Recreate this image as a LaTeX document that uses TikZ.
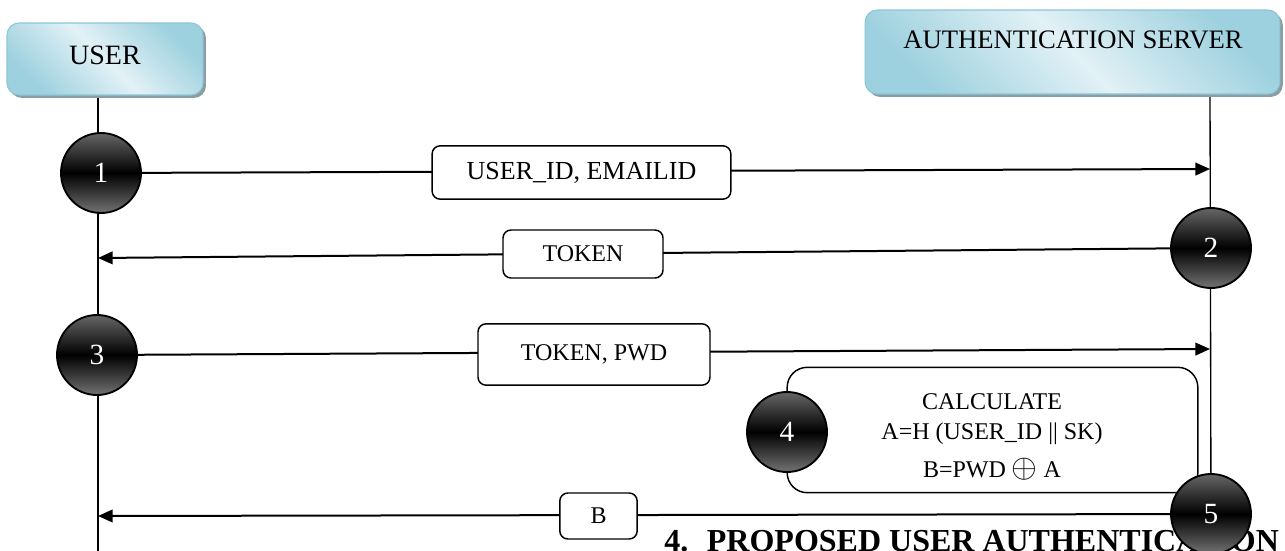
\documentclass[tikz,border=0pt]{standalone}
\usepackage{fontspec}
\setmainfont{Liberation Serif}
\usetikzlibrary{arrows.meta,shadows}
\definecolor{bluelight}{HTML}{E2F1F6}
\definecolor{bluedark}{HTML}{9ED1DF}
\definecolor{blueedge}{HTML}{8CC6D6}
\definecolor{shadowc}{HTML}{8A9DA3}
\pgfdeclarelayer{bg}
\pgfsetlayers{bg,main}
\tikzset{
  actor/.style={rounded corners=9pt, draw=blueedge, line width=0.8pt,
    left color=bluedark, right color=bluedark, middle color=bluelight, shading angle=135,
    drop shadow={shadow xshift=2.2pt, shadow yshift=-2.2pt, fill=shadowc, opacity=1},
    inner sep=0pt},
  numc/.style={circle, draw=black, line width=1.4pt, minimum size=60pt, inner sep=0pt,
    top color=black!60, bottom color=black!55, middle color=black,
    text=white, font=\fontsize{22}{24}\selectfont},
  lbl/.style={draw, fill=white, rounded corners=6pt, line width=1.1pt, inner sep=0pt,
    font=\fontsize{18}{20}\selectfont},
  msg/.style={line width=1.5pt, -{Triangle[length=11pt,width=9.5pt]}},
  life/.style={line width=1pt},
}
\begin{document}
\begin{tikzpicture}[x=0.75pt, y=-0.75pt]
\useasboundingbox (0,0) rectangle (1285,550);

% actors
\node[actor, minimum width=147pt, minimum height=54pt] (userbox) at (105,59) {};
\node[font=\fontsize{21}{24}\selectfont] (usertxt) at (105,55) {USER};
\node[actor, minimum width=311pt, minimum height=63pt] (srvbox) at (1072.5,52) {};
\node[font=\fontsize{20}{24}\selectfont] (srvtxt) at (1073,40) {AUTHENTICATION SERVER};

% coordinates on lifelines
\coordinate (utop) at (98,92);
\coordinate (ubot) at (98,552);
\coordinate (stop) at (1210,92);
\coordinate (s1) at (1210,169);
\coordinate (u2) at (98,258);
\coordinate (s3) at (1210,349);
\coordinate (u5) at (98,516);

% step circles 1-3
\node[numc] (c1) at (101,173) {1};
\node[numc] (c2) at (1211,248) {2};
\node[numc] (c3) at (97,355) {3};

% calculation box
\node[draw, line width=1.1pt, rounded corners=15pt, minimum width=308pt, minimum height=94pt, inner sep=0pt] (box4) at (992.5,430) {};
\node[align=center, font=\fontsize{18}{22.5}\selectfont] (calc) at (992,437)
  {CALCULATE\\A=H (USER\_ID || SK)\\[6pt]B=PWD {\fontsize{26}{26}\selectfont$\oplus$} A};
\node[numc] (c4) at (787,432) {4};

% caption (partly hidden by circle 5)
\node[anchor=base west, inner sep=0pt, font=\bfseries\fontsize{24}{26}\selectfont] (cap) at (664,551)
  {4.\hspace{14pt}PROPOSED USER AUTHENTICATION};
\node[numc] (c5) at (1211,514) {5};

% message labels
\node[lbl, minimum width=224pt, minimum height=40pt, font=\fontsize{19.5}{22}\selectfont] (l1) at (581.5,172.5) {USER\_ID, EMAILID};
\node[lbl, minimum width=120pt, minimum height=36pt] (l2) at (583,254) {TOKEN};
\node[lbl, minimum width=174pt, minimum height=46pt] (l3) at (594,354.5) {TOKEN, PWD};
\node[lbl, minimum width=58pt, minimum height=34.5pt] (l5) at (598.5,516) {B};

\begin{pgfonlayer}{bg}
\draw[life] (utop) -- (ubot);
\draw[life] (stop) -- (c5.center);
\draw[msg] (c1) -- (s1);
\draw[msg] (c2) -- (u2);
\draw[msg] (c3) -- (s3);
\draw[msg] (c5) -- (u5);
\end{pgfonlayer}
\end{tikzpicture}
\end{document}
